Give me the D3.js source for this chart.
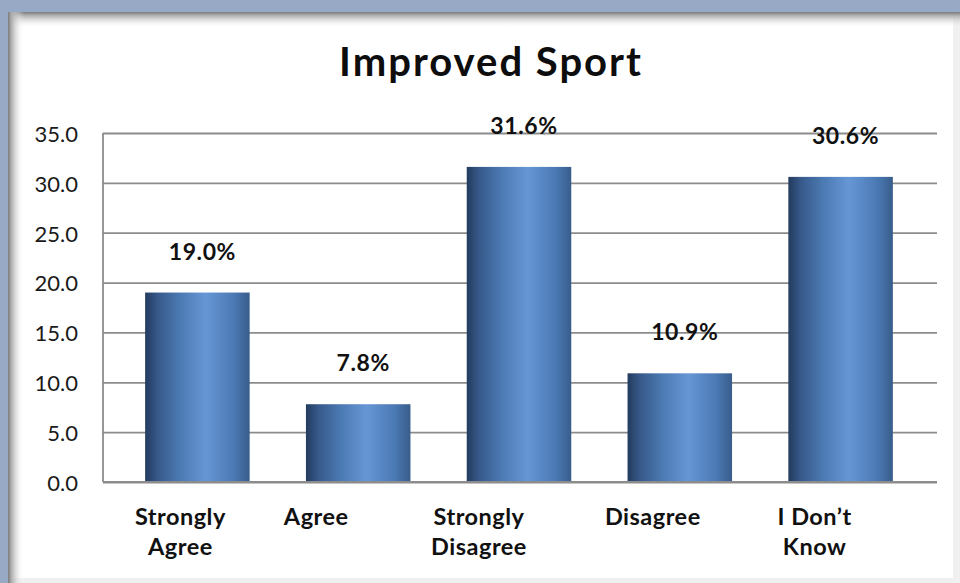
<!DOCTYPE html>
<html>
<head>
<meta charset="utf-8">
<script src="https://cdn.jsdelivr.net/npm/d3@7/dist/d3.min.js"></script>
<style>
  html, body { margin: 0; padding: 0; background: #98a9c5; }
  svg { display: block; font-family: Lato, "Open Sans", sans-serif; }
</style>
</head>
<body>
<script>
// chart data
let categories = ["Strongly Agree", "Agree", "Strongly Disagree", "Disagree", "I Don\u2019t Know"];
let labelLines = [["Strongly", "Agree"], ["Agree"], ["Strongly", "Disagree"], ["Disagree"], ["I Don\u2019t", "Know"]];
let values = [19.0, 7.8, 31.6, 10.9, 30.6];
let yTicks = [0, 5, 10, 15, 20, 25, 30, 35];
let title = "Improved Sport";

// excel puts the category labels a bit left of the bars
let labelNudge = [-17, -42, -40, -27, -26];

let width = 960, height = 583;
let plot = {left: 103, right: 937, top: 133, bottom: 482};

let svg = d3.select("body").append("svg")
    .attr("width", width)
    .attr("height", height);

let defs = svg.append("defs");

// bar gradient, dark edges with a light band
let bg = defs.append("linearGradient").attr("id", "barGrad")
    .attr("x1", "0%").attr("x2", "100%").attr("y1", "0%").attr("y2", "0%");
[["0%", "#233b5e"], ["12%", "#37598a"], ["32%", "#4a78b0"], ["58%", "#6796d6"], ["85%", "#4a79b4"], ["100%", "#395d8a"]]
    .forEach(function (s) { bg.append("stop").attr("offset", s[0]).attr("stop-color", s[1]); });

// panel edge shadows
let topShade = defs.append("linearGradient").attr("id", "topShade")
    .attr("x1", "0").attr("x2", "0").attr("y1", "0").attr("y2", "1");
topShade.append("stop").attr("offset", "0%").attr("stop-color", "#7a7a7a");
topShade.append("stop").attr("offset", "18%").attr("stop-color", "#a8a8a8");
topShade.append("stop").attr("offset", "100%").attr("stop-color", "#ffffff").attr("stop-opacity", 0);

let leftShade = defs.append("linearGradient").attr("id", "leftShade")
    .attr("x1", "0").attr("x2", "1").attr("y1", "0").attr("y2", "0");
leftShade.append("stop").attr("offset", "0%").attr("stop-color", "#7a7a7a");
leftShade.append("stop").attr("offset", "18%").attr("stop-color", "#a8a8a8");
leftShade.append("stop").attr("offset", "100%").attr("stop-color", "#ffffff").attr("stop-opacity", 0);

// background + white panel
svg.append("rect").attr("width", width).attr("height", height).attr("fill", "#98a9c5");
svg.append("rect").attr("x", 8).attr("y", 12).attr("width", width - 8).attr("height", height - 12).attr("fill", "#f0f0f0");
svg.append("rect").attr("x", 8).attr("y", 12).attr("width", 945).attr("height", 566).attr("fill", "#ffffff");
svg.append("rect").attr("x", 8).attr("y", 12).attr("width", 952).attr("height", 16).attr("fill", "url(#topShade)");
svg.append("rect").attr("x", 8).attr("y", 12).attr("width", 16).attr("height", 571).attr("fill", "url(#leftShade)");

// scales
let x = d3.scaleBand()
    .domain(categories)
    .range([117, 921])
    .paddingInner(0.35)
    .paddingOuter(0.175);

let y = d3.scaleLinear()
    .domain([0, 35])
    .range([plot.bottom, plot.top]);

// gridlines
let yAxis = d3.axisLeft(y)
    .tickValues(yTicks)
    .tickSize(-(plot.right - plot.left))
    .tickPadding(25)
    .tickFormat(d3.format(".1f"));

let gy = svg.append("g")
    .attr("transform", "translate(" + plot.left + ",0)")
    .call(yAxis);
gy.select(".domain").remove();
gy.selectAll(".tick line")
    .attr("stroke", "#8c8c8c")
    .attr("stroke-width", 1.8);
gy.selectAll(".tick text")
    .attr("fill", "#1a1a1a")
    .style("font-size", "22px")
    .style("font-family", "Lato, sans-serif")
    .attr("dy", "0.38em");

// y axis line
svg.append("line")
    .attr("x1", plot.left).attr("x2", plot.left)
    .attr("y1", y(35)).attr("y2", y(0))
    .attr("stroke", "#8c8c8c").attr("stroke-width", 1.8);

// bars
svg.selectAll(".bar")
    .data(values)
    .enter().append("rect")
    .attr("class", "bar")
    .attr("x", function (d, i) { return x(categories[i]); })
    .attr("y", function (d) { return y(d); })
    .attr("width", x.bandwidth())
    .attr("height", function (d) { return y(0) - y(d); })
    .attr("fill", "url(#barGrad)");

// x axis baseline on top of bars
svg.append("line")
    .attr("x1", plot.left).attr("x2", plot.right)
    .attr("y1", y(0)).attr("y2", y(0))
    .attr("stroke", "#8c8c8c").attr("stroke-width", 1.8);

// value labels
svg.selectAll(".val")
    .data(values)
    .enter().append("text")
    .attr("class", "val")
    .attr("x", function (d, i) { return x(categories[i]) + x.bandwidth() / 2 + 5; })
    .attr("y", function (d) { return y(d) - 33; })
    .attr("text-anchor", "middle")
    .style("font-size", "23px")
    .style("font-weight", "bold")
    .style("letter-spacing", "0.6px")
    .attr("fill", "#111")
    .text(function (d) { return d.toFixed(1) + "%"; });

// category labels
let cat = svg.selectAll(".cat")
    .data(labelLines)
    .enter().append("text")
    .attr("class", "cat")
    .attr("text-anchor", "middle")
    .style("font-size", "23.5px")
    .style("font-weight", "bold")
    .style("letter-spacing", "0.5px")
    .attr("fill", "#111");
cat.each(function (lines, i) {
    let cx = x(categories[i]) + x.bandwidth() / 2 + labelNudge[i];
    d3.select(this).selectAll("tspan")
        .data(lines)
        .enter().append("tspan")
        .attr("x", cx)
        .attr("y", function (d, j) { return 525 + j * 30; })
        .text(function (d) { return d; });
});

// title
svg.append("text")
    .attr("x", 491)
    .attr("y", 76)
    .attr("text-anchor", "middle")
    .style("font-size", "40px")
    .style("font-weight", "bold")
    .style("letter-spacing", "2px")
    .attr("fill", "#0d0d0d")
    .text(title);
</script>
</body>
</html>
